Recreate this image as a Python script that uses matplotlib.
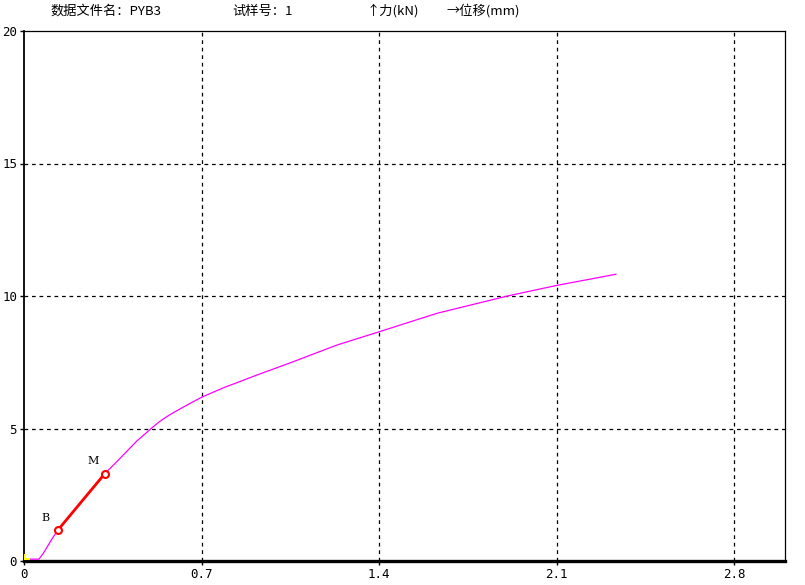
import matplotlib
matplotlib.use('Agg')
import matplotlib.pyplot as plt

plt.rcParams['font.family'] = ['Noto Sans CJK SC', 'DejaVu Sans']

# force-displacement curve (mm, kN)
disp = [0.024, 0.059, 0.076, 0.116, 0.133, 0.318, 0.366, 0.445, 0.48,
        0.501, 0.537, 0.565, 0.589, 0.655, 0.70, 0.787, 0.919, 1.05,
        1.234, 1.40, 1.629, 1.906, 2.10, 2.333]
force = [0.07, 0.07, 0.29, 0.92, 1.16, 3.29, 3.75, 4.53, 4.82,
         5.0, 5.28, 5.46, 5.60, 5.95, 6.18, 6.54, 7.02, 7.48,
         8.15, 8.65, 9.35, 10.0, 10.40, 10.82]

# yellow bit at the origin
pre_disp = [0.0, 0.0, 0.024]
pre_force = [0.25, 0.08, 0.08]

# B and M points (linear segment)
bm_disp = [0.133, 0.318]
bm_force = [1.16, 3.29]
bm_labels = ['B', 'M']
label_pos = [(0.083, 1.62), (0.272, 3.77)]

x_ticks = [0, 0.7, 1.4, 2.1, 2.8]
x_labels = ['0', '0.7', '1.4', '2.1', '2.8']
y_ticks = [0, 5, 10, 15, 20]

fig = plt.figure(figsize=(8.05, 5.85), dpi=100)
fig.patch.set_facecolor('white')
ax = fig.add_axes([24 / 805, 24 / 585, 761 / 805, 530 / 585])

ax.set_xlim(0, 3.0)
ax.set_ylim(0, 20)

# dashed grid at the ticks
for xv in x_ticks[1:]:
    ax.axvline(xv, color='black', lw=0.9, ls=(0, (3, 3)), zorder=1)
for yv in y_ticks[1:-1]:
    ax.axhline(yv, color='black', lw=0.9, ls=(0, (3, 3)), zorder=1)

ax.plot(disp, force, color='#ff00ff', lw=0.9, zorder=3)
ax.plot(pre_disp, pre_force, color='#ffff00', lw=1.5, zorder=3,
        solid_capstyle='butt')
ax.plot(bm_disp, bm_force, color='#ff0000', lw=2.0, zorder=4)
ax.plot(bm_disp, bm_force, ls='none', marker='o', ms=5,
        mfc='white', mec='#ff0000', mew=1.5, zorder=5)

for lab, (lx, ly) in zip(bm_labels, label_pos):
    ax.text(lx, ly, lab, family='DejaVu Serif', fontsize=8,
            ha='center', va='center', color='black')

ax.set_xticks(x_ticks)
ax.set_xticklabels(x_labels, family='DejaVu Sans Mono')
ax.set_yticks(y_ticks)
ax.set_yticklabels([str(v) for v in y_ticks], family='DejaVu Sans Mono')
ax.tick_params(direction='out', length=3, width=1, labelsize=9,
               colors='black', pad=2)

for side in ['top', 'right']:
    ax.spines[side].set_linewidth(0.9)
ax.spines['left'].set_linewidth(1.3)
ax.spines['bottom'].set_linewidth(2.4)

# header line
hdr_y = 1 - 11 / 585
fig.text(50 / 805, hdr_y, '数据文件名：PYB3', fontsize=9.5, va='center')
fig.text(232 / 805, hdr_y, '试样号：1', fontsize=9.5, va='center')
fig.text(366 / 805, hdr_y, '↑力(kN)', fontsize=9.5, va='center')
fig.text(446 / 805, hdr_y, '→位移(mm)', fontsize=9.5, va='center')

fig.savefig('out.png', dpi=100, facecolor='white')
